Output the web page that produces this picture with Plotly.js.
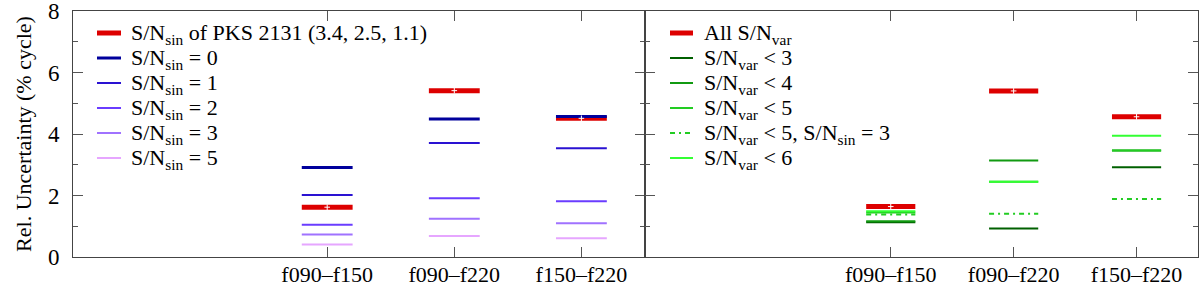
<!DOCTYPE html>
<html>
<head>
<meta charset="utf-8">
<script src="https://cdn.plot.ly/plotly-3.0.1.min.js"></script>
<style>html,body{margin:0;padding:0;background:#fff;}#chart{width:1200px;height:290px;}</style>
</head>
<body>
<div id="chart"></div>
<script>
// ---- data ----
const categories = ["f090–f150", "f090–f220", "f150–f220"];

// left panel: S/N_sin
const pks2131 = [1.62, 5.41, 4.51];
const sin0 = [2.91, 4.49, 4.57];
const sin1 = [2.02, 3.71, 3.54];
const sin2 = [1.05, 1.91, 1.81];
const sin3 = [0.73, 1.24, 1.10];
const sin5 = [0.41, 0.68, 0.61];

// right panel: S/N_var
const allVar = [1.64, 5.40, 4.56];
const var3 = [1.13, 0.93, 2.92];
const var4 = [1.16, 3.14, 3.46];
const var5 = [1.45, 2.45, 3.46];
const var5sin3 = [1.38, 1.41, 1.89];
const var6 = [1.49, 2.45, 3.94];

const leftNames = [
  "S/N<sub>sin</sub> of PKS 2131 (3.4, 2.5, 1.1)",
  "S/N<sub>sin</sub> = 0",
  "S/N<sub>sin</sub> = 1",
  "S/N<sub>sin</sub> = 2",
  "S/N<sub>sin</sub> = 3",
  "S/N<sub>sin</sub> = 5"
];
const rightNames = [
  "All S/N<sub>var</sub>",
  "S/N<sub>var</sub> &lt; 3",
  "S/N<sub>var</sub> &lt; 4",
  "S/N<sub>var</sub> &lt; 5",
  "S/N<sub>var</sub> &lt; 5, S/N<sub>sin</sub> = 3",
  "S/N<sub>var</sub> &lt; 6"
];

// ---- styles ----
const HALF = 0.2;
const FONT = "Liberation Serif";
const W = 1200, H = 290;
const M = {l: 73, r: 2, t: 11, b: 33};
const split = 0.5084;

const leftStyles = [
  {color: "#dd0000", width: 5, dash: "solid"},
  {color: "#00009c", width: 3, dash: "solid"},
  {color: "#2a12d2", width: 2, dash: "solid"},
  {color: "#6a3cff", width: 2, dash: "solid"},
  {color: "#a072ff", width: 2, dash: "solid"},
  {color: "#e6a6ff", width: 2, dash: "solid"}
];
const rightStyles = [
  {color: "#dd0000", width: 5, dash: "solid"},
  {color: "#006000", width: 2, dash: "solid"},
  {color: "#119a11", width: 2, dash: "solid"},
  {color: "#22cc22", width: 2, dash: "solid"},
  {color: "#22cc22", width: 2, dash: "5px,4px,2px,4px"},
  {color: "#33ff33", width: 2, dash: "solid"}
];

function segs(vals) {
  const x = [], y = [];
  vals.forEach((v, i) => {
    x.push(i - HALF, i + HALF, null);
    y.push(v, v, null);
  });
  return {x, y};
}

function trace(vals, name, st, xa, ya) {
  const s = segs(vals);
  return {
    type: "scatter", mode: "lines", x: s.x, y: s.y, name: name,
    line: {color: st.color, width: st.width, dash: st.dash},
    xaxis: xa, yaxis: ya, showlegend: false, hoverinfo: "skip"
  };
}
function centerMarks(vals, xa, ya) {
  return {
    type: "scatter", mode: "markers", x: vals.map((v, i) => i), y: vals,
    marker: {symbol: "cross-thin", size: 4, line: {color: "#ffffff", width: 1}},
    xaxis: xa, yaxis: ya, showlegend: false, hoverinfo: "skip"
  };
}

const leftSeries = [pks2131, sin0, sin1, sin2, sin3, sin5];
const rightSeries = [allVar, var3, var4, var5, var5sin3, var6];

const data = [];
leftSeries.forEach((vals, k) => data.push(trace(vals, leftNames[k], leftStyles[k], "x", "y")));
rightSeries.forEach((vals, k) => data.push(trace(vals, rightNames[k], rightStyles[k], "x2", "y2")));
data.push(centerMarks(pks2131, "x", "y"));
data.push(centerMarks(allVar, "x2", "y2"));

// ---- manual legends (pixel layout converted to paper coords) ----
const PW = W - M.l - M.r, PH = H - M.t - M.b;
const px = (x) => (x - M.l) / PW;
const py = (y) => (H - M.b - y) / PH;

const shapes = [], annotations = [];
function addLegend(names, styles, x0, x1, xt, y0, step) {
  names.forEach((nm, i) => {
    const yy = y0 + i * step;
    const st = styles[i];
    shapes.push({type: "line", xref: "paper", yref: "paper",
      x0: px(x0), x1: px(x1), y0: py(yy), y1: py(yy),
      line: {color: st.color, width: st.width, dash: st.dash}});
    annotations.push({xref: "paper", yref: "paper", x: px(xt), y: py(yy + 1),
      xanchor: "left", yanchor: "middle", showarrow: false, text: nm,
      borderpad: 0, font: {family: FONT, size: 22, color: "#000"}});
  });
}
addLegend(leftNames, leftStyles, 97, 121, 130, 33, 25);
addLegend(rightNames, rightStyles, 670, 693, 703, 33, 25);

const axisCommon = {
  showline: true, linecolor: "#444", linewidth: 1, mirror: "ticks",
  ticks: "inside", ticklen: 10, tickcolor: "#555", tickwidth: 1,
  showgrid: false, zeroline: false,
  tickfont: {family: FONT, size: 23, color: "#000"}
};

const layout = {
  width: W, height: H,
  margin: M,
  paper_bgcolor: "#fff", plot_bgcolor: "#fff",
  font: {family: FONT, size: 22, color: "#000"},
  showlegend: false,
  shapes: shapes,
  annotations: annotations,
  xaxis: Object.assign({}, axisCommon, {
    domain: [0, split], range: [-2, 2.5], tickvals: [0, 1, 2], ticktext: categories,
    anchor: "y", fixedrange: true, ticklabelstandoff: -2,
    tickfont: {family: FONT, size: 22, color: "#000"}
  }),
  xaxis2: Object.assign({}, axisCommon, {
    domain: [split, 1], range: [-2, 2.5], tickvals: [0, 1, 2], ticktext: categories,
    anchor: "y2", fixedrange: true, ticklabelstandoff: -2,
    tickfont: {family: FONT, size: 22, color: "#000"}
  }),
  yaxis: Object.assign({}, axisCommon, {
    range: [0, 8], tickmode: "linear", tick0: 0, dtick: 2, anchor: "x",
    minor: {ticks: "inside", ticklen: 5, dtick: 1, tickcolor: "#555"},
    ticklabelstandoff: 8, ticklabeloverflow: "allow",
    title: {text: "Rel. Uncertainty (% cycle)", font: {family: FONT, size: 22}, standoff: 10}
  }),
  yaxis2: Object.assign({}, axisCommon, {
    range: [0, 8], tickmode: "linear", tick0: 0, dtick: 2, anchor: "x2", showticklabels: false,
    minor: {ticks: "inside", ticklen: 5, dtick: 1, tickcolor: "#555"}
  })
};

Plotly.newPlot("chart", data, layout, {staticPlot: true, displayModeBar: false});
</script>
</body>
</html>
